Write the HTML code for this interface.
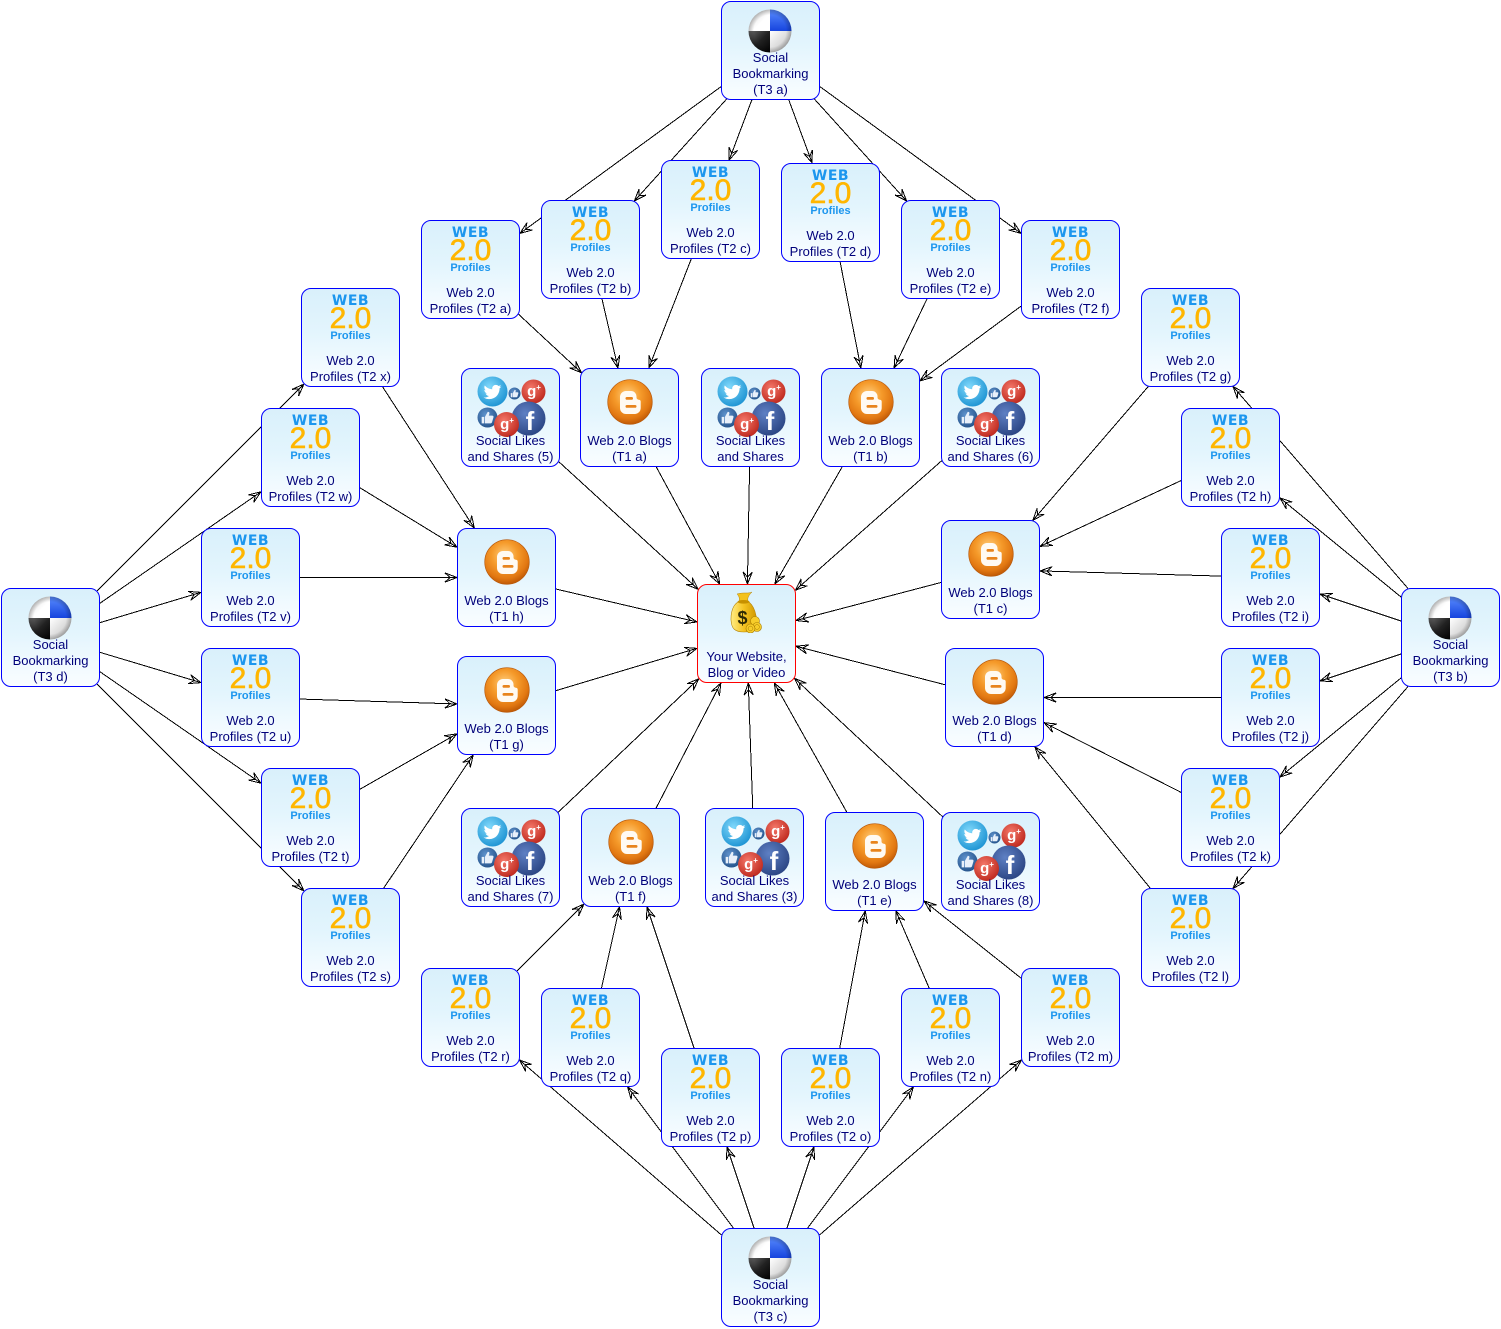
<!DOCTYPE html>
<html>
<head>
<meta charset="utf-8">
<style>
html,body{margin:0;padding:0;background:#fff}
body{width:1501px;height:1329px;overflow:hidden;position:relative}
#E{position:absolute;left:0;top:0}
.n{position:absolute;width:99px;height:99px;box-sizing:border-box;border:1.5px solid #0000ff;border-radius:10px;background:linear-gradient(180deg,#d9f0fb 0%,#e3f5fd 45%,#f1faff 78%,#f9fdff 100%)}
.n svg{position:absolute;overflow:visible}
.c{border-color:#ff0000}
.l{position:absolute;left:-14px;right:-14px;top:63.5px;text-align:center;font:13px/16px "Liberation Sans",Arial,sans-serif;color:#00007a;white-space:nowrap}
.l3{top:47.5px}
.w{position:absolute;left:0;right:0;top:5px;text-align:center;font:bold 14px/1 "DejaVu Sans",sans-serif;letter-spacing:0.5px;color:#1c96ee}
.t{position:absolute;left:0;right:0;top:14.5px;text-align:center;font:30px/1 "Liberation Sans",sans-serif;color:#ffb600;-webkit-text-stroke:0.6px #ffb600}
.p{position:absolute;left:0;right:0;top:42px;text-align:center;font:bold 11px/1 "Liberation Sans",sans-serif;color:#1c96ee}
.dl{left:26px;top:6.5px;width:44px;height:44px}
.bl{left:25.5px;top:9.5px;width:46px;height:46px}
.so{left:0;top:0;width:96px;height:70px}
.mb{left:30px;top:6px;width:34px;height:42px}
</style>
</head>
<body>
<svg width="0" height="0" style="position:absolute">
<defs>
<linearGradient id="gW1" x1="0" y1="0" x2="1" y2="1"><stop offset="0" stop-color="#d4d4d4"/><stop offset=".6" stop-color="#ffffff"/></linearGradient>
<linearGradient id="gBl" x1="0" y1="0" x2="0" y2="1"><stop offset="0" stop-color="#5a8dff"/><stop offset="1" stop-color="#1644de"/></linearGradient>
<linearGradient id="gK" x1="0" y1="0" x2="1" y2="1"><stop offset="0" stop-color="#6a6a6a"/><stop offset=".5" stop-color="#222"/><stop offset="1" stop-color="#000"/></linearGradient>
<linearGradient id="gW2" x1="0" y1="0" x2="1" y2="1"><stop offset="0" stop-color="#ffffff"/><stop offset="1" stop-color="#b8b8b8"/></linearGradient>
<radialGradient id="gSh" cx=".5" cy=".5" r=".5"><stop offset=".75" stop-color="#000" stop-opacity="0"/><stop offset="1" stop-color="#000" stop-opacity=".25"/></radialGradient>
<radialGradient id="gO" cx=".45" cy=".35" r=".65"><stop offset="0" stop-color="#ffcf80"/><stop offset=".45" stop-color="#f59a2a"/><stop offset=".8" stop-color="#e27812"/><stop offset="1" stop-color="#c05a06"/></radialGradient>
<radialGradient id="gTw" cx=".4" cy=".35" r=".7"><stop offset="0" stop-color="#80d8fb"/><stop offset="1" stop-color="#1b92d2"/></radialGradient>
<radialGradient id="gTh" cx=".4" cy=".35" r=".7"><stop offset="0" stop-color="#5f92cc"/><stop offset="1" stop-color="#23528a"/></radialGradient>
<radialGradient id="gG" cx=".4" cy=".35" r=".7"><stop offset="0" stop-color="#f4786a"/><stop offset="1" stop-color="#bd261b"/></radialGradient>
<radialGradient id="gF" cx=".4" cy=".35" r=".7"><stop offset="0" stop-color="#5e80c4"/><stop offset="1" stop-color="#2a4482"/></radialGradient>
<linearGradient id="gY" x1="0" y1="0" x2="1" y2="0"><stop offset="0" stop-color="#ffec85"/><stop offset=".5" stop-color="#f5c422"/><stop offset="1" stop-color="#d09800"/></linearGradient>
<clipPath id="dc"><circle cx="22" cy="22" r="21.5"/></clipPath>

<symbol id="del" viewBox="0 0 44 44">
<g clip-path="url(#dc)">
<rect x="0" y="0" width="22" height="22" fill="url(#gW1)"/>
<rect x="22" y="0" width="22" height="22" fill="url(#gBl)"/>
<rect x="0" y="22" width="22" height="22" fill="url(#gK)"/>
<rect x="22" y="22" width="22" height="22" fill="url(#gW2)"/>
</g>
<circle cx="22" cy="22" r="21.5" fill="url(#gSh)"/>
</symbol>

<symbol id="blog" viewBox="0 0 46 46">
<circle cx="23" cy="23" r="22.3" fill="url(#gO)" stroke="#b8580a" stroke-width=".6"/>
<path d="M19,12 h5 a5.5,5.5 0 0 1 5.5,5.5 v1 a2.2,2.2 0 0 0 2.2,2.2 a2,2 0 0 1 2,2 v6.3 a6,6 0 0 1 -6,6 h-8.7 a6,6 0 0 1 -6,-6 v-11 a6,6 0 0 1 6,-6 z" fill="#fffaf2"/>
<rect x="18.5" y="18" width="7.5" height="2.8" rx="1.4" fill="#e8841c"/>
<rect x="18.5" y="26" width="11" height="2.8" rx="1.4" fill="#e8841c"/>
</symbol>

<symbol id="thumb" viewBox="-6 -6 12 12">
<path d="M-5,-0.5h2.2v5.5h-2.2z M-2.2,-0.5 L0.2,-4.8 C1.3,-5 1.9,-4.2 1.6,-3.2 L1.1,-1.6 H4 C4.9,-1.6 5.4,-0.9 5.1,-0.1 L3.9,4 C3.7,4.6 3.2,5 2.6,5 H-2.2 Z" fill="#e8f0fa"/>
</symbol>

<symbol id="soc" viewBox="0 0 96 70">
<circle cx="30.5" cy="22.5" r="15" fill="url(#gTw)"/>
<path transform="translate(30.5,23) scale(1.1)" fill="#fff" d="M8,-5 c-0.6,0.3 -1.2,0.4 -1.9,0.5 c0.7,-0.4 1.2,-1 1.4,-1.8 c-0.6,0.4 -1.3,0.6 -2.1,0.8 c-0.6,-0.6 -1.5,-1 -2.4,-1 c-1.8,0 -3.3,1.5 -3.3,3.3 c0,0.3 0,0.5 0.1,0.7 c-2.7,-0.1 -5.2,-1.4 -6.8,-3.4 c-0.3,0.5 -0.4,1.1 -0.4,1.7 c0,1.1 0.6,2.2 1.5,2.7 c-0.5,0 -1,-0.2 -1.5,-0.4 c0,1.6 1.1,2.9 2.6,3.2 c-0.3,0.1 -0.6,0.1 -0.9,0.1 c-0.2,0 -0.4,0 -0.6,-0.1 c0.4,1.3 1.6,2.3 3.1,2.3 c-1.1,0.9 -2.6,1.4 -4.1,1.4 c-0.3,0 -0.5,0 -0.8,0 c1.5,0.9 3.2,1.5 5.1,1.5 c6.1,0 9.4,-5 9.4,-9.4 l0,-0.4 c0.6,-0.5 1.2,-1 1.6,-1.7z"/>
<circle cx="52.5" cy="24.5" r="6" fill="url(#gTh)"/>
<use href="#thumb" x="48" y="20" width="9" height="9"/>
<circle cx="71.5" cy="22.5" r="12" fill="url(#gG)"/>
<text x="72" y="27" text-anchor="middle" font-family="Liberation Sans,sans-serif" font-weight="bold" font-size="15" fill="#fff">g<tspan font-size="8" dy="-6">+</tspan></text>
<circle cx="25.5" cy="48.5" r="10" fill="url(#gTh)"/>
<use href="#thumb" x="18.5" y="41.5" width="14" height="14"/>
<circle cx="66.5" cy="49.5" r="17" fill="url(#gF)"/>
<text x="68" y="61" text-anchor="middle" font-family="Liberation Sans,sans-serif" font-weight="bold" font-size="26" fill="#fff">f</text>
<circle cx="44.5" cy="55.5" r="12.5" fill="url(#gG)"/>
<text x="45" y="60" text-anchor="middle" font-family="Liberation Sans,sans-serif" font-weight="bold" font-size="15" fill="#fff">g<tspan font-size="8" dy="-6">+</tspan></text>
</symbol>

<symbol id="bag" viewBox="0 0 34 42">
<path d="M9,3 C11,5 12,8 11,10 L20,10 C19,7 21,4 24,1 C20,3 16,1 9,3 Z" fill="#f3c21c" stroke="#b8860b" stroke-width=".5"/>
<path d="M10,11 C2,16 1,33 6,38 C10,42 22,42 26,38 C31,32 28,17 21,11 Z" fill="url(#gY)" stroke="#b8860b" stroke-width=".6"/>
<ellipse cx="15.5" cy="10.8" rx="6" ry="1.8" fill="#c79100"/>
<text x="14.5" y="33" text-anchor="middle" font-family="Liberation Sans,sans-serif" font-weight="bold" font-size="18" fill="#2e2a05">$</text>
<circle cx="27" cy="30" r="4.5" fill="#f7cd2a" stroke="#a87b00" stroke-width=".6"/>
<circle cx="29" cy="36" r="4.5" fill="#f7cd2a" stroke="#a87b00" stroke-width=".6"/>
<circle cx="22.5" cy="37.5" r="4.5" fill="#f7cd2a" stroke="#a87b00" stroke-width=".6"/>
<circle cx="22.5" cy="37.5" r="2.4" fill="none" stroke="#a87b00" stroke-width=".5"/>
<circle cx="29" cy="36" r="2.4" fill="none" stroke="#a87b00" stroke-width=".5"/>
</symbol>
</defs>
</svg>

<svg id="E" width="1501" height="1329"><path id="ep" d="" fill="none" stroke="#000" stroke-width="1" shape-rendering="crispEdges"/></svg>

<!-- Social Bookmarking -->
<div class="n" id="T3a" style="left:721px;top:1px"><svg class="dl"><use href="#del"/></svg><div class="l l3">Social<br>Bookmarking<br>(T3 a)</div></div>
<div class="n" id="T3b" style="left:1401px;top:588px"><svg class="dl"><use href="#del"/></svg><div class="l l3">Social<br>Bookmarking<br>(T3 b)</div></div>
<div class="n" id="T3c" style="left:721px;top:1228px"><svg class="dl"><use href="#del"/></svg><div class="l l3">Social<br>Bookmarking<br>(T3 c)</div></div>
<div class="n" id="T3d" style="left:1px;top:588px"><svg class="dl"><use href="#del"/></svg><div class="l l3">Social<br>Bookmarking<br>(T3 d)</div></div>

<!-- Web 2.0 Profiles -->
<div class="n" id="T2a" style="left:421px;top:220px"><div class="w">WEB</div><div class="t">2.0</div><div class="p">Profiles</div><div class="l">Web 2.0<br>Profiles (T2 a)</div></div>
<div class="n" id="T2b" style="left:541px;top:200px"><div class="w">WEB</div><div class="t">2.0</div><div class="p">Profiles</div><div class="l">Web 2.0<br>Profiles (T2 b)</div></div>
<div class="n" id="T2c" style="left:661px;top:160px"><div class="w">WEB</div><div class="t">2.0</div><div class="p">Profiles</div><div class="l">Web 2.0<br>Profiles (T2 c)</div></div>
<div class="n" id="T2d" style="left:781px;top:163px"><div class="w">WEB</div><div class="t">2.0</div><div class="p">Profiles</div><div class="l">Web 2.0<br>Profiles (T2 d)</div></div>
<div class="n" id="T2e" style="left:901px;top:200px"><div class="w">WEB</div><div class="t">2.0</div><div class="p">Profiles</div><div class="l">Web 2.0<br>Profiles (T2 e)</div></div>
<div class="n" id="T2f" style="left:1021px;top:220px"><div class="w">WEB</div><div class="t">2.0</div><div class="p">Profiles</div><div class="l">Web 2.0<br>Profiles (T2 f)</div></div>

<div class="n" id="T2g" style="left:1141px;top:288px"><div class="w">WEB</div><div class="t">2.0</div><div class="p">Profiles</div><div class="l">Web 2.0<br>Profiles (T2 g)</div></div>
<div class="n" id="T2h" style="left:1181px;top:408px"><div class="w">WEB</div><div class="t">2.0</div><div class="p">Profiles</div><div class="l">Web 2.0<br>Profiles (T2 h)</div></div>
<div class="n" id="T2i" style="left:1221px;top:528px"><div class="w">WEB</div><div class="t">2.0</div><div class="p">Profiles</div><div class="l">Web 2.0<br>Profiles (T2 i)</div></div>
<div class="n" id="T2j" style="left:1221px;top:648px"><div class="w">WEB</div><div class="t">2.0</div><div class="p">Profiles</div><div class="l">Web 2.0<br>Profiles (T2 j)</div></div>
<div class="n" id="T2k" style="left:1181px;top:768px"><div class="w">WEB</div><div class="t">2.0</div><div class="p">Profiles</div><div class="l">Web 2.0<br>Profiles (T2 k)</div></div>
<div class="n" id="T2l" style="left:1141px;top:888px"><div class="w">WEB</div><div class="t">2.0</div><div class="p">Profiles</div><div class="l">Web 2.0<br>Profiles (T2 l)</div></div>

<div class="n" id="T2m" style="left:1021px;top:968px"><div class="w">WEB</div><div class="t">2.0</div><div class="p">Profiles</div><div class="l">Web 2.0<br>Profiles (T2 m)</div></div>
<div class="n" id="T2n" style="left:901px;top:988px"><div class="w">WEB</div><div class="t">2.0</div><div class="p">Profiles</div><div class="l">Web 2.0<br>Profiles (T2 n)</div></div>
<div class="n" id="T2o" style="left:781px;top:1048px"><div class="w">WEB</div><div class="t">2.0</div><div class="p">Profiles</div><div class="l">Web 2.0<br>Profiles (T2 o)</div></div>
<div class="n" id="T2p" style="left:661px;top:1048px"><div class="w">WEB</div><div class="t">2.0</div><div class="p">Profiles</div><div class="l">Web 2.0<br>Profiles (T2 p)</div></div>
<div class="n" id="T2q" style="left:541px;top:988px"><div class="w">WEB</div><div class="t">2.0</div><div class="p">Profiles</div><div class="l">Web 2.0<br>Profiles (T2 q)</div></div>
<div class="n" id="T2r" style="left:421px;top:968px"><div class="w">WEB</div><div class="t">2.0</div><div class="p">Profiles</div><div class="l">Web 2.0<br>Profiles (T2 r)</div></div>

<div class="n" id="T2s" style="left:301px;top:888px"><div class="w">WEB</div><div class="t">2.0</div><div class="p">Profiles</div><div class="l">Web 2.0<br>Profiles (T2 s)</div></div>
<div class="n" id="T2t" style="left:261px;top:768px"><div class="w">WEB</div><div class="t">2.0</div><div class="p">Profiles</div><div class="l">Web 2.0<br>Profiles (T2 t)</div></div>
<div class="n" id="T2u" style="left:201px;top:648px"><div class="w">WEB</div><div class="t">2.0</div><div class="p">Profiles</div><div class="l">Web 2.0<br>Profiles (T2 u)</div></div>
<div class="n" id="T2v" style="left:201px;top:528px"><div class="w">WEB</div><div class="t">2.0</div><div class="p">Profiles</div><div class="l">Web 2.0<br>Profiles (T2 v)</div></div>
<div class="n" id="T2w" style="left:261px;top:408px"><div class="w">WEB</div><div class="t">2.0</div><div class="p">Profiles</div><div class="l">Web 2.0<br>Profiles (T2 w)</div></div>
<div class="n" id="T2x" style="left:301px;top:288px"><div class="w">WEB</div><div class="t">2.0</div><div class="p">Profiles</div><div class="l">Web 2.0<br>Profiles (T2 x)</div></div>

<!-- Web 2.0 Blogs -->
<div class="n" id="T1a" style="left:580px;top:368px"><svg class="bl"><use href="#blog"/></svg><div class="l">Web 2.0 Blogs<br>(T1 a)</div></div>
<div class="n" id="T1b" style="left:821px;top:368px"><svg class="bl"><use href="#blog"/></svg><div class="l">Web 2.0 Blogs<br>(T1 b)</div></div>
<div class="n" id="T1c" style="left:941px;top:520px"><svg class="bl"><use href="#blog"/></svg><div class="l">Web 2.0 Blogs<br>(T1 c)</div></div>
<div class="n" id="T1d" style="left:945px;top:648px"><svg class="bl"><use href="#blog"/></svg><div class="l">Web 2.0 Blogs<br>(T1 d)</div></div>
<div class="n" id="T1e" style="left:825px;top:812px"><svg class="bl"><use href="#blog"/></svg><div class="l">Web 2.0 Blogs<br>(T1 e)</div></div>
<div class="n" id="T1f" style="left:581px;top:808px"><svg class="bl"><use href="#blog"/></svg><div class="l">Web 2.0 Blogs<br>(T1 f)</div></div>
<div class="n" id="T1g" style="left:457px;top:656px"><svg class="bl"><use href="#blog"/></svg><div class="l">Web 2.0 Blogs<br>(T1 g)</div></div>
<div class="n" id="T1h" style="left:457px;top:528px"><svg class="bl"><use href="#blog"/></svg><div class="l">Web 2.0 Blogs<br>(T1 h)</div></div>

<!-- Social Likes -->
<div class="n" id="S5" style="left:461px;top:368px"><svg class="so"><use href="#soc"/></svg><div class="l">Social Likes<br>and Shares (5)</div></div>
<div class="n" id="S0" style="left:701px;top:368px"><svg class="so"><use href="#soc"/></svg><div class="l">Social Likes<br>and Shares</div></div>
<div class="n" id="S6" style="left:941px;top:368px"><svg class="so"><use href="#soc"/></svg><div class="l">Social Likes<br>and Shares (6)</div></div>
<div class="n" id="S7" style="left:461px;top:808px"><svg class="so"><use href="#soc"/></svg><div class="l">Social Likes<br>and Shares (7)</div></div>
<div class="n" id="S3" style="left:705px;top:808px"><svg class="so"><use href="#soc"/></svg><div class="l">Social Likes<br>and Shares (3)</div></div>
<div class="n" id="S8" style="left:941px;top:812px"><svg class="so"><use href="#soc"/></svg><div class="l">Social Likes<br>and Shares (8)</div></div>

<!-- Center -->
<div class="n c" id="C" style="left:697px;top:584px"><svg class="mb"><use href="#bag"/></svg><div class="l">Your Website,<br>Blog or Video</div></div>

<script>
(function(){
var E=[
["T3a","T2a"],["T3a","T2b"],["T3a","T2c"],["T3a","T2d"],["T3a","T2e"],["T3a","T2f"],
["T3b","T2g"],["T3b","T2h"],["T3b","T2i"],["T3b","T2j"],["T3b","T2k"],["T3b","T2l"],
["T3c","T2m"],["T3c","T2n"],["T3c","T2o"],["T3c","T2p"],["T3c","T2q"],["T3c","T2r"],
["T3d","T2s"],["T3d","T2t"],["T3d","T2u"],["T3d","T2v"],["T3d","T2w"],["T3d","T2x"],
["T2a","T1a"],["T2b","T1a"],["T2c","T1a"],
["T2d","T1b"],["T2e","T1b"],["T2f","T1b"],
["T2g","T1c"],["T2h","T1c"],["T2i","T1c"],
["T2j","T1d"],["T2k","T1d"],["T2l","T1d"],
["T2m","T1e"],["T2n","T1e"],["T2o","T1e"],
["T2p","T1f"],["T2q","T1f"],["T2r","T1f"],
["T2s","T1g"],["T2t","T1g"],["T2u","T1g"],
["T2v","T1h"],["T2w","T1h"],["T2x","T1h"],
["T1a","C"],["T1b","C"],["T1c","C"],["T1d","C"],["T1e","C"],["T1f","C"],["T1g","C"],["T1h","C"],
["S0","C"],["S3","C"],["S5","C"],["S6","C"],["S7","C"],["S8","C"]
];
function box(id){var e=document.getElementById(id);return {x:e.offsetLeft,y:e.offsetTop,w:e.offsetWidth,h:e.offsetHeight,r:10};}
function inside(b,x,y){var cx=b.x+b.w/2,cy=b.y+b.h/2;var dx=Math.max(Math.abs(x-cx)-(b.w/2-b.r),0),dy=Math.max(Math.abs(y-cy)-(b.h/2-b.r),0);return dx*dx+dy*dy<=b.r*b.r;}
function exitP(b,ax,ay,bx,by){var lo=0,hi=1;for(var i=0;i<40;i++){var m=(lo+hi)/2;if(inside(b,ax+(bx-ax)*m,ay+(by-ay)*m))lo=m;else hi=m;}return [ax+(bx-ax)*hi,ay+(by-ay)*hi];}
function f(v){return v.toFixed(2);}
var d="";
for(var i=0;i<E.length;i++){
 var A=box(E[i][0]),B=box(E[i][1]);
 var ax=A.x+A.w/2,ay=A.y+A.h/2,bx=B.x+B.w/2,by=B.y+B.h/2;
 var p1=exitP(A,ax,ay,bx,by),p2=exitP(B,bx,by,ax,ay);
 var ux=p2[0]-p1[0],uy=p2[1]-p1[1],L=Math.sqrt(ux*ux+uy*uy);ux/=L;uy/=L;
 var nx=-uy,ny=ux;
 d+="M"+f(p1[0])+" "+f(p1[1])+"L"+f(p2[0])+" "+f(p2[1]);
 var tx=p2[0],ty=p2[1];
 var lx=tx-12*ux+4.6*nx,ly=ty-12*uy+4.6*ny;
 var rx=tx-12*ux-4.6*nx,ry=ty-12*uy-4.6*ny;
 var qx=tx-7*ux,qy=ty-7*uy;
 d+="M"+f(lx)+" "+f(ly)+"L"+f(tx)+" "+f(ty)+"L"+f(rx)+" "+f(ry)+"L"+f(qx)+" "+f(qy)+"Z";
}
document.getElementById("ep").setAttribute("d",d);
})();
</script>
</body>
</html>
